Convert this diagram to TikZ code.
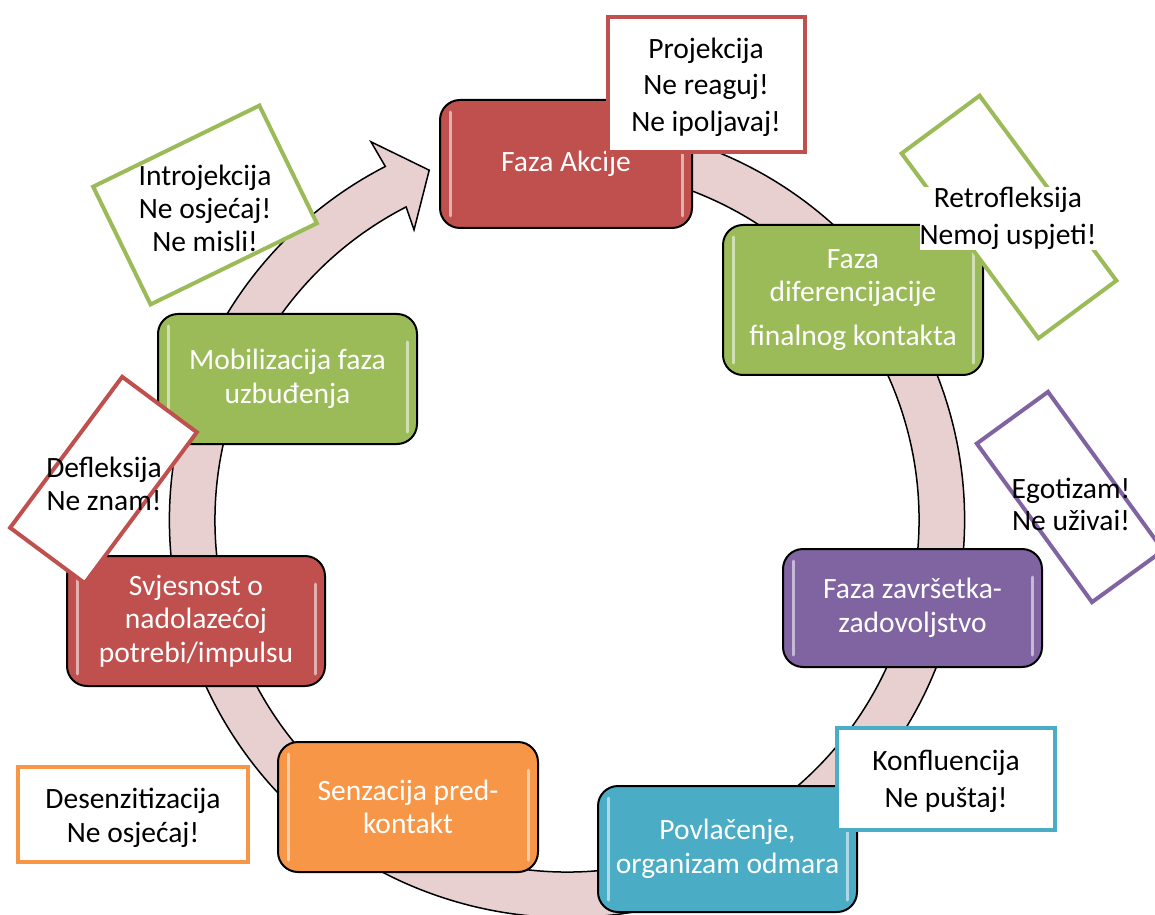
\documentclass[tikz,border=0pt]{standalone}
\usepackage{fontspec}
\setmainfont{Carlito}
\usepackage{xcolor}
\usepackage{tikz}
\definecolor{fazaRed}{HTML}{C0504D}
\definecolor{fazaGreen}{HTML}{9BBB59}
\definecolor{fazaPurple}{HTML}{8064A2}
\definecolor{fazaBlue}{HTML}{4BACC6}
\definecolor{fazaOrange}{HTML}{F79646}
\definecolor{ringPink}{HTML}{E8D0D1}
\tikzset{
  faza/.style={draw=black, line width=2pt, rounded corners=20pt, fill=#1, text=white,
    align=center, font=\fontsize{29.5}{33.5}\selectfont,
    path picture={
      \draw[white, opacity=.55, line width=3pt, line cap=round]
        ([xshift=10pt,yshift=-12pt]path picture bounding box.north west) -- ([xshift=10pt,yshift=12pt]path picture bounding box.south west)
        ([xshift=-10pt,yshift=-28pt]path picture bounding box.north east) -- ([xshift=-10pt,yshift=12pt]path picture bounding box.south east);
    }},
  otpor/.style={draw=#1, line width=4pt, fill=white},
  natpis/.style={align=center, font=\fontsize{29.5}{36.5}\selectfont, inner sep=1pt},
}

\begin{document}
\begin{tikzpicture}[x=1pt, y=1pt]
\useasboundingbox (0,0) rectangle (1155,914);
\clip (0,0) rectangle (1155,914);
\begin{scope}[shift={(567,394)}]
\draw[fill=ringPink, line width=1.5pt, line join=miter] (75:397.5) arc[start angle=75, end angle=-242.8, radius=397.5]
  -- (-242.6:426) -- (-248.5:376) -- (-242.2:328) -- (-242.8:352)
  arc[start angle=-242.8, end angle=75, radius=352] -- cycle;
\end{scope}
\node[faza=fazaRed, minimum width=252pt, minimum height=128pt] (akcija) at (566,750) {Faza Akcije};
\node[faza=fazaGreen, minimum width=260pt, minimum height=150pt] (diferencijacija) at (853,614) {Faza\\diferencijacije\\[10pt]finalnog kontakta};
\node[faza=fazaPurple, minimum width=259pt, minimum height=118pt] (zavrsetak) at (912.5,306) {Faza završetka-\\zadovoljstvo};
\node[faza=fazaBlue, minimum width=259pt, minimum height=126pt] (povlacenje) at (727.5,65) {Povlačenje,\\organizam odmara};
\node[faza=fazaOrange, minimum width=260pt, minimum height=130pt] (senzacija) at (408,107) {Senzacija pred-\\kontakt};
\node[faza=fazaRed, minimum width=258pt, minimum height=130pt] (svjesnost) at (196,293) {Svjesnost o\\nadolazećoj\\potrebi/impulsu};
\node[faza=fazaGreen, minimum width=259pt, minimum height=130pt] (mobilizacija) at (287.5,535) {Mobilizacija faza\\uzbuđenja};
\node[otpor=fazaRed, minimum width=197pt, minimum height=135pt] (projekcijaBox) at (706.5,829.5) {};
\node[natpis] (projekcija) at (706,827) {Projekcija\\Ne reaguj!\\Ne ipoljavaj!};
\node[otpor=fazaGreen, rotate=26, minimum width=185pt, minimum height=131pt] (introjekcijaBox) at (205,709) {};
\node[natpis, font=\fontsize{29.5}{33}\selectfont] (introjekcija) at (205,706) {Introjekcija\\Ne osjećaj!\\Ne misli!};
\node[otpor=fazaGreen, rotate=-53.5, minimum width=230pt, minimum height=97pt] (retrofleksijaBox) at (1009,697) {};
\node[natpis, fill=white, inner sep=0pt] (retrofleksija) at (1008,695.5) {Retrofleksija\\Nemoj uspjeti!};
\node[otpor=fazaPurple, rotate=-54, minimum width=196pt, minimum height=88pt] (egotizamBox) at (1070,417) {};
\node[natpis, font=\fontsize{29.5}{32}\selectfont] (egotizam) at (1071,410) {Egotizam!\\Ne uživai!};
\node[otpor=fazaRed, rotate=53.4, minimum width=188pt, minimum height=93pt] (defleksijaBox) at (103.5,434) {};
\node[natpis, font=\fontsize{29.5}{33}\selectfont] (defleksija) at (104,430.5) {Defleksija\\Ne znam!};
\node[otpor=fazaBlue, minimum width=218pt, minimum height=102pt] (konfluencijaBox) at (946,135) {};
\node[natpis] (konfluencija) at (946,132.5) {Konfluencija\\Ne puštaj!};
\node[otpor=fazaOrange, minimum width=230pt, minimum height=95pt] (desenzitizacijaBox) at (133,99.5) {};
\node[natpis, font=\fontsize{29.5}{34}\selectfont] (desenzitizacija) at (133,96) {Desenzitizacija\\Ne osjećaj!};
\end{tikzpicture}
\end{document}
